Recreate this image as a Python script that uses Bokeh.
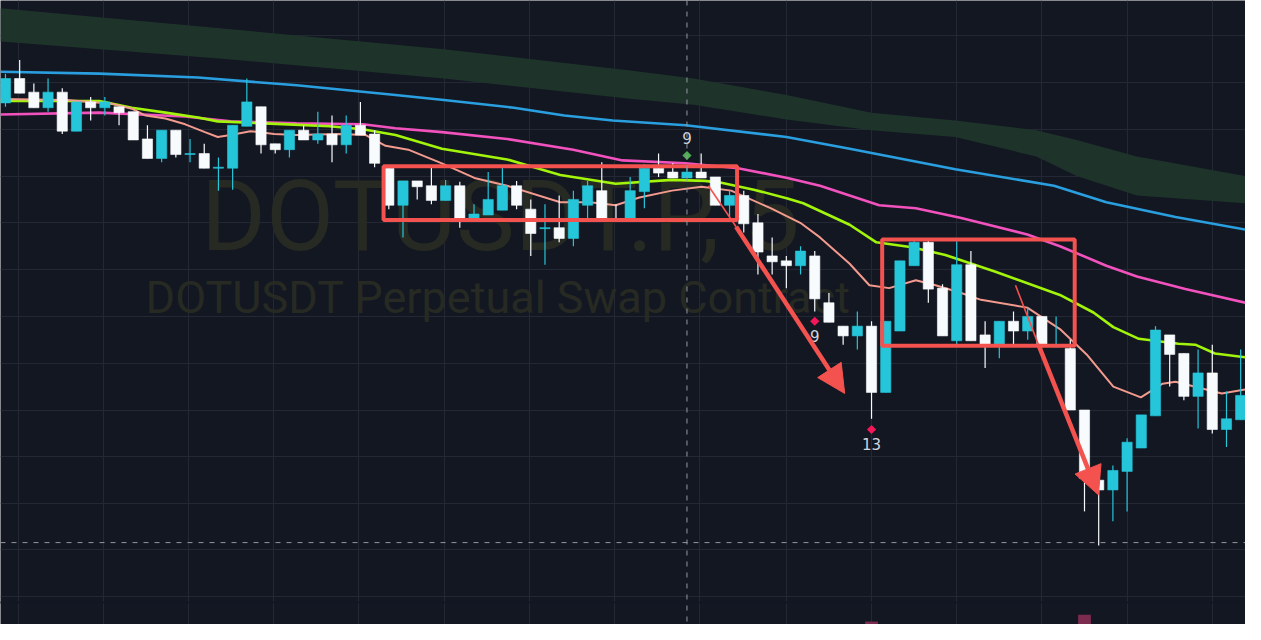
from bokeh.plotting import figure
from bokeh.models import Range1d, Grid, FixedTicker, Span, Arrow, NormalHead, ColumnDataSource
from bokeh.core.properties import value
from bokeh.embed import file_html
from bokeh.resources import INLINE

# ---------------- data (5-minute candles, DOTUSDT.P) ----------------
opens = [7.895, 7.920, 7.906, 7.890, 7.906, 7.866, 7.896, 7.890, 7.891, 7.886,
         7.858, 7.838, 7.867, 7.842, 7.843, 7.828, 7.828, 7.871, 7.891, 7.853,
         7.847, 7.867, 7.857, 7.863, 7.852, 7.872, 7.863, 7.828, 7.790, 7.815,
         7.810, 7.795, 7.810, 7.774, 7.780, 7.785, 7.810, 7.786, 7.766, 7.767,
         7.756, 7.790, 7.805, 7.776, 7.775, 7.804, 7.828, 7.824, 7.818, 7.824,
         7.819, 7.790, 7.800, 7.772, 7.738, 7.733, 7.728, 7.738, 7.690, 7.666,
         7.656, 7.666, 7.598, 7.661, 7.728, 7.752, 7.705, 7.651, 7.729, 7.657,
         7.646, 7.671, 7.661, 7.676, 7.645, 7.643, 7.580, 7.508, 7.498, 7.517,
         7.541, 7.574, 7.657, 7.638, 7.594, 7.618, 7.560, 7.570]
highs = [7.925, 7.939, 7.915, 7.920, 7.910, 7.896, 7.901, 7.901, 7.891, 7.886,
         7.872, 7.867, 7.867, 7.858, 7.853, 7.839, 7.872, 7.920, 7.891, 7.853,
         7.867, 7.872, 7.886, 7.882, 7.882, 7.896, 7.867, 7.830, 7.815, 7.815,
         7.829, 7.816, 7.814, 7.791, 7.824, 7.829, 7.815, 7.796, 7.791, 7.800,
         7.805, 7.815, 7.834, 7.791, 7.819, 7.832, 7.843, 7.833, 7.829, 7.843,
         7.819, 7.805, 7.805, 7.781, 7.757, 7.738, 7.748, 7.743, 7.700, 7.666,
         7.681, 7.671, 7.671, 7.733, 7.755, 7.754, 7.709, 7.753, 7.743, 7.671,
         7.671, 7.681, 7.685, 7.676, 7.676, 7.652, 7.580, 7.518, 7.523, 7.551,
         7.575, 7.666, 7.657, 7.638, 7.642, 7.647, 7.599, 7.642]
lows = [7.891, 7.905, 7.890, 7.886, 7.863, 7.866, 7.877, 7.882, 7.872, 7.857,
        7.838, 7.834, 7.839, 7.834, 7.828, 7.805, 7.806, 7.871, 7.843, 7.843,
        7.839, 7.857, 7.853, 7.834, 7.843, 7.862, 7.829, 7.786, 7.757, 7.796,
        7.791, 7.795, 7.767, 7.774, 7.780, 7.785, 7.786, 7.738, 7.729, 7.752,
        7.748, 7.776, 7.774, 7.774, 7.775, 7.787, 7.819, 7.818, 7.818, 7.818,
        7.790, 7.778, 7.762, 7.719, 7.719, 7.705, 7.719, 7.681, 7.670, 7.647,
        7.642, 7.571, 7.598, 7.661, 7.728, 7.690, 7.656, 7.647, 7.651, 7.623,
        7.633, 7.647, 7.652, 7.644, 7.644, 7.580, 7.476, 7.441, 7.466, 7.476,
        7.541, 7.574, 7.604, 7.590, 7.561, 7.556, 7.542, 7.570]
closes = [7.920, 7.905, 7.890, 7.906, 7.866, 7.896, 7.890, 7.896, 7.885, 7.857,
          7.838, 7.867, 7.842, 7.843, 7.828, 7.829, 7.872, 7.896, 7.852, 7.847,
          7.867, 7.857, 7.863, 7.852, 7.872, 7.862, 7.833, 7.790, 7.815, 7.809,
          7.795, 7.810, 7.775, 7.781, 7.796, 7.810, 7.790, 7.761, 7.767, 7.756,
          7.796, 7.810, 7.775, 7.774, 7.805, 7.828, 7.823, 7.818, 7.824, 7.818,
          7.790, 7.800, 7.771, 7.742, 7.732, 7.728, 7.743, 7.694, 7.670, 7.656,
          7.666, 7.598, 7.671, 7.733, 7.752, 7.704, 7.656, 7.729, 7.651, 7.646,
          7.671, 7.661, 7.676, 7.646, 7.646, 7.580, 7.510, 7.498, 7.518, 7.547,
          7.575, 7.662, 7.637, 7.594, 7.618, 7.560, 7.571, 7.595]

# moving averages (sampled readings: bar index, price)
ma_slow_x = [-0.35, 6.61, 13.56, 20.51, 27.47, 30.88, 35.81, 39.36, 42.77, 47.91, 55.01,
             59.46, 66.90, 73.85, 77.54, 82.41, 87.34]
ma_slow_y = [7.927, 7.925, 7.921, 7.913, 7.903, 7.898, 7.890, 7.882, 7.877, 7.872, 7.860,
             7.848, 7.827, 7.810, 7.793, 7.778, 7.765]
ma_100_x = [-0.35, 6.61, 12.66, 15.86, 20.51, 25.17, 27.47, 30.74, 35.33, 39.99, 43.46, 47.91,
            51.60, 55.08, 57.37, 61.54, 64.12, 67.32, 71.97, 74.27, 77.54, 79.69, 83.10, 87.34]
ma_100_y = [7.883, 7.885, 7.881, 7.876, 7.874, 7.873, 7.869, 7.865, 7.858, 7.847, 7.836, 7.833,
            7.828, 7.818, 7.810, 7.790, 7.787, 7.777, 7.760, 7.748, 7.728, 7.717, 7.704, 7.690]
ma_50_x = [-0.35, 6.61, 8.90, 11.27, 13.56, 14.95, 18.22, 22.81, 25.17, 27.47, 30.74, 35.33,
           39.08, 42.98, 46.94, 49.24, 50.42, 52.71, 55.08, 56.19, 59.46, 61.34, 63.84, 66.20,
           69.68, 74.27, 76.63, 78.03, 79.83, 82.62, 83.80, 85.19, 87.34]
ma_50_y = [7.897, 7.897, 7.890, 7.885, 7.880, 7.876, 7.874, 7.871, 7.868, 7.862, 7.848, 7.837,
           7.821, 7.812, 7.816, 7.815, 7.813, 7.806, 7.797, 7.792, 7.770, 7.752, 7.747, 7.739,
           7.722, 7.698, 7.680, 7.665, 7.653, 7.648, 7.647, 7.638, 7.634]
ma_fast_x = [-0.35, 4.31, 7.51, 8.90, 9.87, 11.27, 12.66, 14.05, 14.95, 15.86, 17.25, 18.92,
             20.51, 23.50, 25.38, 26.77, 28.37, 30.74, 33.03, 35.33, 39.08, 41.17, 42.98, 44.65,
             46.94, 49.03, 51.11, 53.89, 55.98, 57.37, 59.46, 60.85, 62.24, 64.12, 65.51, 67.32,
             68.71, 71.97, 74.27, 76.15, 78.03, 79.97, 81.50, 82.41, 85.67, 87.34]
ma_fast_y = [7.899, 7.898, 7.894, 7.889, 7.882, 7.879, 7.873, 7.865, 7.860, 7.862, 7.866, 7.863,
             7.862, 7.863, 7.862, 7.851, 7.847, 7.833, 7.818, 7.810, 7.793, 7.793, 7.790, 7.798,
             7.805, 7.809, 7.805, 7.787, 7.772, 7.757, 7.730, 7.708, 7.705, 7.713, 7.708, 7.700,
             7.693, 7.685, 7.663, 7.637, 7.604, 7.593, 7.607, 7.609, 7.597, 7.601]

# cloud band (sampled readings)
band_x = [-0.35, 15.51, 30.88, 44.16, 48.47, 55.01, 60.99, 66.90, 72.60, 75.45, 79.69, 87.34]
band_top = [7.992, 7.971, 7.950, 7.928, 7.920, 7.903, 7.885, 7.877, 7.867, 7.857, 7.840, 7.820]
band_bot = [7.958, 7.940, 7.920, 7.899, 7.893, 7.878, 7.867, 7.860, 7.840, 7.820, 7.800, 7.792]

# sequential-count signals
sig_up_idx = [48]
sig_up_price = [7.841]
sig_up_label = ["9"]
sig_dn_idx = [57, 61]
sig_dn_price = [7.671, 7.560]
sig_dn_label = ["9", "13"]

# volume (only the tallest bars reach into view)
vol_idx = [61, 76]
vol_top = [7.363, 7.370]

# annotations drawn on the screenshot
box_left = [26.63, 61.75]
box_right = [51.53, 75.31]
box_top = [7.830, 7.755]
box_bottom = [7.775, 7.646]
arrow_thin = [(49.51, 7.810, 51.46, 7.768), (71.14, 7.708, 72.81, 7.645)]
arrow_thick = [(51.46, 7.768, 59.11, 7.597), (72.81, 7.645, 76.98, 7.493)]

crosshair_x = 48
crosshair_y = 7.444

grid_x = [0.9, 6.9, 12.9, 18.9, 24.9, 30.9, 36.9, 42.9, 48.9, 55.0, 61.0, 67.0, 73.0, 79.0, 85.0]
grid_y = [7.964, 7.916, 7.868, 7.820, 7.772, 7.724, 7.676, 7.628, 7.580, 7.532, 7.484, 7.437, 7.389]

# ---------------- styling ----------------
BG = "#131722"
UP = "#26c6da"
DN = "#f8fbfd"
RED = "#f4524f"

p = figure(width=1245, height=624, output_backend="svg", toolbar_location=None,
           x_axis_type=None, y_axis_type=None,
           x_range=Range1d(-0.35, 87.34), y_range=Range1d(7.36, 8.0),
           background_fill_color=BG, border_fill_color=BG, min_border=0)
p.outline_line_color = None

p.add_layout(Grid(dimension=0, ticker=FixedTicker(ticks=grid_x), grid_line_color="#242835"))
p.add_layout(Grid(dimension=1, ticker=FixedTicker(ticks=grid_y), grid_line_color="#242835"))

# pane separator gap
p.quad(left=[-1], right=[89], top=[7.3835], bottom=[7.3815], fill_color=BG, line_color=None)

# watermark
p.text(x=[13.77], y=[7.779], text=["DOTUSDT.P, 5"], text_font=value("Roboto"),
       text_font_size="99px", text_color="#262a22", text_baseline="alphabetic", text_align="left")
p.text(x=[9.87], y=[7.695], text=["DOTUSDT Perpetual Swap Contract"], text_font=value("Roboto"),
       text_font_size="45px", text_color="#262a22", text_baseline="alphabetic", text_align="left")

# cloud band
p.varea(x=band_x, y1=band_bot, y2=band_top, fill_color="#1e342a")

# moving averages
p.line(ma_slow_x, ma_slow_y, line_color="#2a9fe0", line_width=2.6)
p.line(ma_100_x, ma_100_y, line_color="#f252bd", line_width=2.6)
p.line(ma_50_x, ma_50_y, line_color="#a2f50a", line_width=2.6)
p.line(ma_fast_x, ma_fast_y, line_color="#f39a8e", line_width=2.0)

# crosshair
p.add_layout(Span(location=crosshair_x, dimension="height", line_color="#9598a1",
                  line_dash="5 6", line_width=1))
p.add_layout(Span(location=crosshair_y, dimension="width", line_color="#9598a1",
                  line_dash="5 6", line_width=1))

# candles
idx = list(range(len(opens)))
colors = [UP if c >= o else DN for o, c in zip(opens, closes)]
src = ColumnDataSource(dict(
    x=idx, o=opens, h=highs, l=lows, c=closes,
    top=[max(o, c) for o, c in zip(opens, closes)],
    bot=[min(o, c) for o, c in zip(opens, closes)],
    color=colors))
p.segment(x0="x", y0="h", x1="x", y1="l", line_color="color", line_width=1.2, source=src)
p.vbar(x="x", top="top", bottom="bot", width=0.72, fill_color="color", line_color="color",
       line_width=0.6, source=src)

# volume
p.vbar(x=vol_idx, top=vol_top, bottom=7.30, width=0.9, fill_color="#7b2c4e", line_color=None)

# signals
p.scatter(sig_up_idx, sig_up_price, marker="square", angle=0.785398, size=6.5,
          fill_color="#4caf50", line_color=None)
p.text(x=sig_up_idx, y=[7.859], text=sig_up_label, text_font=value("DejaVu Sans"),
       text_font_size="15px", text_color="#d1d4dc", text_align="center", text_baseline="middle")
p.scatter(sig_dn_idx, sig_dn_price, marker="square", angle=0.785398, size=6.5,
          fill_color="#f5175a", line_color=None)
p.text(x=sig_dn_idx, y=[7.656, 7.545], text=sig_dn_label, text_font=value("DejaVu Sans"),
       text_font_size="15px", text_color="#d1d4dc", text_align="center", text_baseline="middle")

# annotation boxes and arrows
p.quad(left=box_left, right=box_right, top=box_top, bottom=box_bottom,
       fill_color=None, line_color=RED, line_width=4)
for (x0, y0, x1, y1) in arrow_thin:
    p.segment(x0=[x0], y0=[y0], x1=[x1], y1=[y1], line_color=RED, line_width=1.6)
for (x0, y0, x1, y1) in arrow_thick:
    p.add_layout(Arrow(end=NormalHead(size=28, fill_color=RED, line_color=RED, line_width=1),
                       x_start=x0, y_start=y0, x_end=x1, y_end=y1,
                       line_color=RED, line_width=4.5))

open("out.html", "w").write(file_html(p, INLINE))
